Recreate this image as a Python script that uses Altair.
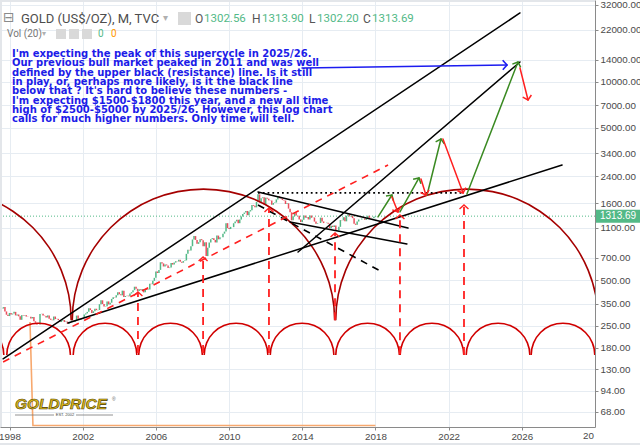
import math
import altair as alt
import pandas as pd

# ---------------- price data (monthly closes) ----------------
close_1997 = [326, 325, 332, 311, 296, 290]  # Jul-Dec 1997
close_1998 = [304, 297, 301, 309, 293, 297, 289, 274, 294, 291, 294, 288]
close_1999 = [287, 287, 280, 286, 268, 262, 255, 255, 299, 300, 292, 290]
close_2000 = [284, 293, 279, 274, 272, 288, 277, 278, 273, 265, 270, 273]
close_2001 = [265, 267, 258, 264, 266, 271, 266, 273, 292, 279, 275, 278]
close_2002 = [282, 297, 302, 309, 326, 318, 304, 312, 324, 317, 318, 347]
close_2003 = [368, 348, 335, 337, 362, 346, 355, 376, 386, 384, 398, 416]
close_2004 = [403, 397, 426, 387, 393, 395, 391, 408, 416, 429, 452, 438]
close_2005 = [423, 435, 429, 436, 415, 437, 430, 433, 473, 470, 494, 517]
close_2006 = [569, 556, 583, 654, 643, 614, 633, 624, 599, 604, 647, 632]
close_2007 = [651, 665, 662, 679, 660, 650, 666, 673, 743, 789, 783, 834]
close_2008 = [923, 972, 917, 864, 886, 928, 913, 833, 884, 718, 815, 882]
close_2009 = [928, 942, 917, 883, 979, 926, 954, 955, 1008, 1040, 1182, 1097]
close_2010 = [1081, 1117, 1113, 1180, 1213, 1244, 1181, 1248, 1307, 1359, 1386, 1421]
close_2011 = [1333, 1410, 1439, 1556, 1536, 1501, 1628, 1826, 1620, 1723, 1746, 1565]
close_2012 = [1738, 1711, 1669, 1664, 1561, 1604, 1614, 1692, 1773, 1720, 1712, 1675]
close_2013 = [1663, 1579, 1596, 1472, 1393, 1234, 1313, 1396, 1327, 1323, 1250, 1202]
close_2014 = [1244, 1326, 1284, 1296, 1250, 1327, 1282, 1287, 1210, 1172, 1183, 1184]
close_2015 = [1284, 1213, 1183, 1183, 1190, 1172, 1095, 1135, 1115, 1142, 1065, 1061]
close_2016 = [1118, 1238, 1234, 1293, 1215, 1322, 1351, 1309, 1316, 1275, 1173, 1152]
close_2017 = [1211, 1249, 1249, 1268, 1269, 1242, 1269, 1322, 1280, 1271, 1275, 1302.56]
close_2018 = [1313.69]
first_open = 334
first_month = 1997.5  # July 1997

current_price = 1313.69

# volume line (Vol 20)
vol_time = [1999.12, 1999.28, 2018.0]
vol_value = [1.0, 0.0, 0.0]

# axis ticks
x_ticks = [1998, 2002, 2006, 2010, 2014, 2018, 2022, 2026]
y_ticks = [68, 94, 130, 180, 250, 350, 500, 700, 1100, 1600, 2400, 3400,
           5000, 7000, 10000, 14000, 22000, 32000]

# cycle arcs: centres (year, price)
big_arc_x = [1994.20, 2008.60, 2023.00]
big_arc_y = [272, 272, 272]
small_arc_x = [1995.95, 1999.59, 2003.22, 2006.80, 2010.38, 2013.99,
               2017.57, 2021.09, 2024.70, 2028.25]
small_arc_y = [161] * 10

# black trend lines
blk_x1 = [1997.65, 2013.77, 2001.20, 2011.58, 2013.33]
blk_y1 = [152, 764, 261, 1894, 1203]
blk_x2 = [2025.90, 2025.90, 2028.20, 2019.78, 2019.72]
blk_y2 = [28360, 13515, 2848, 1099, 863]

blkdash_x1 = [2011.58]; blkdash_y1 = [1555]; blkdash_x2 = [2018.36]; blkdash_y2 = [565]
blkdot_x1 = [2011.58]; blkdot_y1 = [1866]; blkdot_x2 = [2022.79]; blkdot_y2 = [1866]

reddiag_x1 = [1997.65]; reddiag_y1 = [145]; reddiag_x2 = [2018.69]; reddiag_y2 = [2848]

redup_x = [2005.02, 2008.58, 2012.18, 2015.79, 2019.34, 2022.84]
redup_y1 = [166, 166, 166, 272, 163, 161]
redup_y2 = [418, 709, 1487, 1019, 1338, 1555]

grn_x1 = [2018.14, 2019.34, 2020.82, 2023.00]
grn_y1 = [1298, 1400, 1809, 1837]
grn_x2 = [2018.90, 2020.38, 2021.58, 2025.79]
grn_y2 = [1809, 2340, 4220, 13515]

reda_x1 = [2018.90, 2020.49, 2021.69, 2025.90]
reda_y1 = [1755, 2305, 4220, 12345]
reda_x2 = [2019.23, 2020.76, 2022.79, 2026.34]
reda_y2 = [1400, 1809, 1866, 7610]

blue_x1 = [2013.99]; blue_y1 = [12345]; blue_x2 = [2025.19]; blue_y2 = [12920]

note_lines = [
    "I'm expecting the peak of this supercycle in 2025/26.",
    "Our previous bull market peaked in 2011 and was well",
    "defined by the upper black (resistance) line. Is it still",
    "in play, or, perhaps more likely, is it the black line",
    "below that ? It's hard to believe these numbers -",
    "I'm expecting $1500-$1800 this year, and a new all time",
    "high of $2500-$5000 by 2025/26. However, this log chart",
    "calls for much higher numbers. Only time will tell.",
]

# ---------------- layout / style ----------------
X_MIN, X_MAX = 1997.48, 2030.0
Y_MIN, Y_MAX = 54.2, 34500.0
W, H = 595, 427
GRID = "#e6ecf2"
UP, DOWN = "#53b987", "#eb4d5c"
AX_FONT = "Liberation Sans"
PPY = W / (X_MAX - X_MIN)
PPD = H / math.log10(Y_MAX / Y_MIN)

xscale = alt.Scale(domain=[X_MIN, X_MAX], nice=False, zero=False)
yscale = alt.Scale(type="log", domain=[Y_MIN, Y_MAX], nice=False)
xaxis = alt.Axis(values=x_ticks, format="d", title=None, grid=True, gridColor=GRID,
                 domainColor="#8a8a8a", tickColor="#8a8a8a", tickSize=3,
                 labelFont=AX_FONT, labelFontSize=9.8, labelColor="#4a4a4a",
                 labelPadding=1, labelFlush=False, labelOverlap=False)
yaxis = alt.Axis(orient="right", values=y_ticks, format=".2f", title=None, grid=True,
                 gridColor=GRID, domainColor="#8a8a8a", tickColor="#8a8a8a", tickSize=3,
                 labelFont=AX_FONT, labelFontSize=9.8, labelColor="#4a4a4a",
                 labelPadding=2, labelFlush=False, labelOverlap=False)


def X(f):
    return alt.X(f, type="quantitative", scale=xscale, axis=xaxis)


def Y(f):
    return alt.Y(f, type="quantitative", scale=yscale, axis=yaxis)


def head_angle(x1, y1, x2, y2):
    dx = (x2 - x1) * PPY
    dy = -(math.log10(y2) - math.log10(y1)) * PPD
    return math.degrees(math.atan2(dx, -dy)) % 360


def segs(x1, y1, x2, y2, color, width, dash=None, cap="butt"):
    df = pd.DataFrame({"x1": x1, "y1": y1, "x2": x2, "y2": y2})
    kw = dict(color=color, strokeWidth=width, clip=True, strokeCap=cap)
    if dash:
        kw["strokeDash"] = dash
    return alt.Chart(df).mark_rule(**kw).encode(x=X("x1"), y=Y("y1"), x2="x2", y2="y2")


CHEVRON = "M-1,0.9L0,0L1,0.9"


def heads(x1, y1, x2, y2, color, width, size=90):
    ang = [head_angle(a, b, c, d) for a, b, c, d in zip(x1, y1, x2, y2)]
    df = pd.DataFrame({"x": x2, "y": y2, "a": ang})
    return alt.Chart(df).mark_point(shape=CHEVRON, filled=False, color=color,
                                    strokeWidth=width, size=size, opacity=1,
                                    clip=True).encode(
        x=X("x"), y=Y("y"), angle=alt.Angle("a:Q", scale=None))


# ---------------- candles ----------------
closes = (close_1997 + close_1998 + close_1999 + close_2000 + close_2001 + close_2002 +
          close_2003 + close_2004 + close_2005 + close_2006 + close_2007 + close_2008 +
          close_2009 + close_2010 + close_2011 + close_2012 + close_2013 + close_2014 +
          close_2015 + close_2016 + close_2017 + close_2018)
opens = [first_open] + closes[:-1]
times = [first_month + i / 12 for i in range(len(closes))]
cdf = pd.DataFrame({"t": times, "o": opens, "c": closes,
                    "d": ["up" if c >= o else "down" for o, c in zip(opens, closes)]})
candles = alt.Chart(cdf).mark_rule(strokeWidth=1.5, clip=True).encode(
    x=X("t"), y=Y("o"), y2="c",
    color=alt.Color("d:N", scale=alt.Scale(domain=["up", "down"], range=[UP, DOWN]), legend=None))

# ---------------- arcs ----------------
big_arcs = alt.Chart(pd.DataFrame({"x": big_arc_x, "y": big_arc_y})).mark_arc(
    theta=3 * math.pi / 2, theta2=5 * math.pi / 2, radius=132, radius2=130.4,
    color="#a50000", clip=True).encode(x=X("x"), y=Y("y"))
small_arcs = alt.Chart(pd.DataFrame({"x": small_arc_x, "y": small_arc_y})).mark_arc(
    theta=3 * math.pi / 2, theta2=5 * math.pi / 2, radius=32.6, radius2=31.0,
    color="#d00000", clip=True).encode(x=X("x"), y=Y("y"))

# ---------------- current price ----------------
cur = pd.DataFrame({"p": [current_price]})
cur_line = alt.Chart(cur).mark_rule(color=UP, strokeDash=[1, 2], strokeWidth=1).encode(y=Y("p"))
cur_box = alt.Chart(cur).mark_rect(color=UP, yOffset=-6.5, y2Offset=6.5).encode(
    x=alt.value(596), x2=alt.value(640), y=Y("p"), y2="p")
cur_txt = alt.Chart(cur).mark_text(align="left", baseline="middle", color="white",
                                   font=AX_FONT, fontSize=10).encode(
    x=alt.value(600), y=Y("p"), text=alt.Text("p:Q", format=".2f"))

# ---------------- volume ----------------
vol = alt.Chart(pd.DataFrame({"t": vol_time, "v": vol_value})).mark_line(
    color="#f7a86e", strokeWidth=1.6, clip=True).encode(
    x=X("t"),
    y=alt.Y("v:Q", scale=alt.Scale(domain=[-0.0145, 4.111], nice=False, zero=False), axis=None))

# ---------------- text ----------------
base = alt.Chart(pd.DataFrame({"k": [0]}))


def txt(s, x, y, size, color, font="Roboto", weight="normal", align="left",
        baseline="middle", **kw):
    return base.mark_text(align=align, baseline=baseline, font=font, fontSize=size,
                          fontWeight=weight, color=color, **kw).encode(
        x=alt.value(x), y=alt.value(y), text=alt.value(s))


def box(x1, x2, y1, y2, color):
    return base.mark_rect(color=color).encode(
        x=alt.value(x1), x2=alt.value(x2), y=alt.value(y1), y2=alt.value(y2))


def hline(x1, x2, y, color, w=1):
    return base.mark_rule(color=color, strokeWidth=w).encode(
        x=alt.value(x1), x2=alt.value(x2), y=alt.value(y))


note = base.mark_text(align="left", baseline="alphabetic", font="DejaVu Sans", fontSize=10.0,
                      fontWeight="bold", color="#1c1ce8", lineBreak="\n",
                      lineHeight=9.35).encode(
    x=alt.value(12), y=alt.value(57), text=alt.value("\n".join(note_lines)))

header = [
    txt("\u229f", 3, 18, 14, "#8a8a8a", font="DejaVu Sans"),
    txt("GOLD (US$/OZ), M, TVC", 21, 18.5, 13, "#4d4d4d"),
    txt("\u25be", 163, 18, 10, "#b0b0b0", font="DejaVu Sans"),
    box(178, 191, 12, 25, "#d9d9d9"),
    txt("O", 195, 18.5, 12, "#555555"),
    txt("1302.56", 204, 18.5, 11.5, UP),
    txt("H", 252, 18.5, 12, "#555555"),
    txt("1313.90", 262, 18.5, 11.5, UP),
    txt("L", 309, 18.5, 12, "#555555"),
    txt("1302.20", 317, 18.5, 11.5, UP),
    txt("C", 363, 18.5, 12, "#555555"),
    txt("1313.69", 372, 18.5, 11.5, UP),
    txt("Vol (20)", 7, 34, 10, "#777777"),
    txt("\u25be", 42, 34, 8, "#b0b0b0", font="DejaVu Sans"),
    box(56, 66, 29, 39, "#d9d9d9"),
    box(69, 79, 29, 39, "#d9d9d9"),
    box(82, 92, 29, 39, "#d9d9d9"),
    txt("0", 98, 34, 10, UP),
    txt("0", 111, 34, 10, "#ff9800"),
]

logo = [
    txt("GOLDPRICE", 15, 409, 15.5, "#dcb81c", font=AX_FONT, weight="bold",
        baseline="alphabetic", fontStyle="italic", stroke="#4a3c00", strokeWidth=0.6),
    txt("\u00ae", 112, 399, 5, "#666666", font=AX_FONT),
    hline(15, 54, 415, "#777777", 0.8),
    hline(76, 113, 415, "#777777", 0.8),
    txt("EST. 2002", 65, 415, 4, "#444444", font=AX_FONT, align="center"),
]

frame = [
    box(0, 595, 0, 2, "#e3e6ea"),
    box(0, 2, 0, 427, "#e3e6ea"),
    box(0, 640, 443, 445, "#e3e6ea"),
    txt("20", 583, 436, 9.8, "#4a4a4a", font=AX_FONT),
]

# ---------------- drawings ----------------
drawings = [
    big_arcs,
    small_arcs,
    segs(blk_x1, blk_y1, blk_x2, blk_y2, "#000000", 1.5, cap="round"),
    segs(blkdash_x1, blkdash_y1, blkdash_x2, blkdash_y2, "#000000", 1.6, dash=[7, 6]),
    segs(blkdot_x1, blkdot_y1, blkdot_x2, blkdot_y2, "#000000", 1.8, dash=[1.8, 3]),
    segs(reddiag_x1, reddiag_y1, reddiag_x2, reddiag_y2, "#ff1f1f", 1.6, dash=[7, 6]),
    segs(redup_x, redup_y1, redup_x, redup_y2, "#ff2020", 1.8, dash=[8, 6]),
    heads(redup_x, redup_y1, redup_x, redup_y2, "#ff2020", 1.4, size=80),
    segs(grn_x1, grn_y1, grn_x2, grn_y2, "#3a8a22", 1.5, cap="round"),
    heads(grn_x1, grn_y1, grn_x2, grn_y2, "#3a8a22", 1.5, size=80),
    segs(reda_x1, reda_y1, reda_x2, reda_y2, "#ff2020", 1.5, cap="round"),
    heads(reda_x1, reda_y1, reda_x2, reda_y2, "#ff2020", 1.5, size=80),
    segs(blue_x1, blue_y1, blue_x2, blue_y2, "#1c1cf0", 1.6, cap="round"),
    heads(blue_x1, blue_y1, blue_x2, blue_y2, "#1c1cf0", 1.6, size=90),
]

price_group = alt.layer(cur_line, candles, *drawings, cur_box, cur_txt, note,
                        *header, *logo, *frame)

chart = alt.layer(vol, price_group).resolve_scale(y="independent").properties(
    width=W, height=H,
    padding={"left": 0, "top": 0, "right": 45, "bottom": 18},
    autosize=alt.AutoSizeParams(type="none"),
    background="white",
).configure_view(stroke=None)

chart.save("out.html", embed_options={"renderer": "svg", "actions": False})
